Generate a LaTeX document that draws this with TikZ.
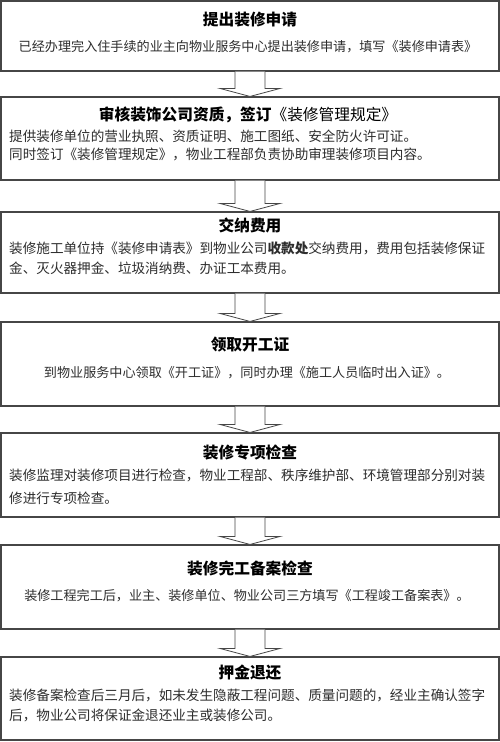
\documentclass[tikz,border=0pt]{standalone}
\usepackage{fontspec}
\setmainfont{Noto Sans CJK SC}
\usepackage{tikz}
\usetikzlibrary{calc}

\definecolor{edgegray}{RGB}{70,70,70}
\definecolor{textgray}{RGB}{45,45,45}

\tikzset{
  stepbox/.style={draw=edgegray, line width=1.1pt, fill=white, minimum width=498, inner sep=0pt},
  heading/.style={inner sep=0pt, font=\fontsize{15.7}{18}\selectfont\bfseries, text=black},
  note/.style={inner sep=0pt, align=left, text=textgray, font=\fontsize{13.6}{20}\selectfont},
  notec/.style={inner sep=0pt, align=center, text=textgray, font=\fontsize{13.1}{20}\selectfont},
  blockarrow/.style={draw=edgegray, line width=0.8pt, fill=white, line join=miter}
}

\begin{document}
\begin{tikzpicture}[x=1pt,y=1pt,yscale=-1,xscale=1]
\useasboundingbox (0,0) rectangle (500,742);

% Boxes
\node [stepbox, minimum height=70] (apply) at (250,36) {};
\node [stepbox, minimum height=83] (audit) at (250,138.5) {};
\node [stepbox, minimum height=81] (fee) at (250,252.5) {};
\node [stepbox, minimum height=84] (permit) at (250,364) {};
\node [stepbox, minimum height=84] (check) at (250,475) {};
\node [stepbox, minimum height=84] (record) at (250,587) {};
\node [stepbox, minimum height=83] (refund) at (250,698.5) {};

% Arrows
\foreach \a/\b in {apply/audit, audit/fee, fee/permit, permit/check, check/record, record/refund}
  \draw [blockarrow] ($(\a.south)+(-15,0)$) -- ($(\b.north)+(-15,-8)$) -- ($(\b.north)+(-30,-8)$)
    -- (\b.north) -- ($(\b.north)+(30,-8)$) -- ($(\b.north)+(15,-8)$) -- ($(\a.south)+(15,0)$);

% Titles
\node [heading] (applyT) at (250,20) {提出装修申请};
\node [heading] (auditT) at (248,115) {审核装饰公司资质，签订{\mdseries 《装修管理规定》}};
\node [heading] (feeT) at (250,225) {交纳费用};
\node [heading] (permitT) at (250,345) {领取开工证};
\node [heading] (checkT) at (250,452) {装修专项检查};
\node [heading] (recordT) at (250,568) {装修完工备案检查};
\node [heading] (refundT) at (250,673) {押金退还};

% Text
\node [notec] (applyD) at (248,47) {已经办理完入住手续的业主向物业服务中心提出装修申请，填写《装修申请表》};
\node [note, anchor=west, font=\fontsize{13.6}{17.5}\selectfont] (auditD) at (9,145.5) {提供装修单位的营业执照、资质证明、施工图纸、安全防火许可证。\\同时签订《装修管理规定》，物业工程部负责协助审理装修项目内容。};
\node [note, anchor=west] (feeD) at (9,258) {装修施工单位持《装修申请表》到物业公司{\bfseries 收款处}交纳费用，费用包括装修保证\\金、灭火器押金、垃圾消纳费、办证工本费用。};
\node [notec] (permitD) at (247,373) {到物业服务中心领取《开工证》，同时办理《施工人员临时出入证》。};
\node [note, anchor=west, font=\fontsize{13.6}{23}\selectfont] (checkD) at (9,486.5) {装修监理对装修项目进行检查，物业工程部、秩序维护部、环境管理部分别对装\\修进行专项检查。};
\node [notec] (recordD) at (247,596) {装修工程完工后，业主、装修单位、物业公司三方填写《工程竣工备案表》。};
\node [note, anchor=west] (refundD) at (9,705) {装修备案检查后三月后，如未发生隐蔽工程问题、质量问题的，经业主确认签字\\后，物业公司将保证金退还业主或装修公司。};

\end{tikzpicture}
\end{document}
